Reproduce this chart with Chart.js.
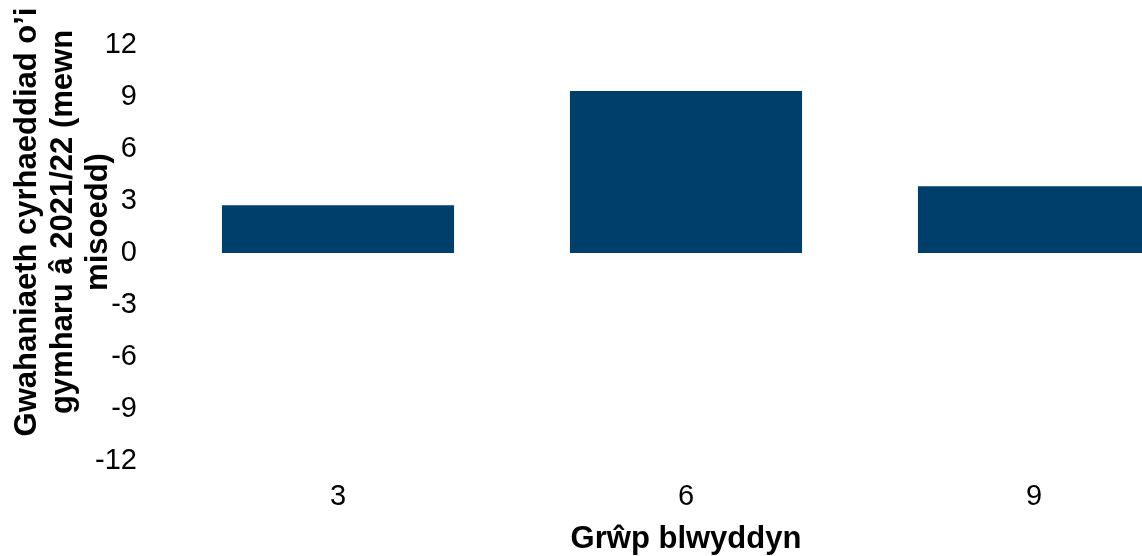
<!DOCTYPE html>
<html>
<head>
<meta charset="utf-8">
<script src="https://cdn.jsdelivr.net/npm/chart.js@4/dist/chart.umd.min.js"></script>
<style>
  html, body { margin: 0; padding: 0; background: #ffffff; overflow: hidden; }
  #wrap { width: 1210px; height: 556px; }
</style>
</head>
<body>
<div id="wrap"><canvas id="c" width="1210" height="556"></canvas></div>
<script>
const categories = ['3', '6', '9'];
const values = [2.75, 9.35, 3.85];
const yMin = -12;
const yMax = 12;
const yStep = 3;
const yTitleLines = ['Gwahaniaeth cyrhaeddiad o\u2019i', 'gymharu \u00e2 2021/22 (mewn', 'misoedd)'];
const xTitle = 'Gr\u0175p blwyddyn';

const FONT = '"Liberation Sans", Arial, sans-serif';
const barColor = '#003e6b';

const titlePlugin = {
  id: 'titles',
  afterDraw(chart) {
    const ctx = chart.ctx;
    const area = chart.chartArea;
    ctx.save();
    ctx.fillStyle = '#000000';
    ctx.font = 'bold 31px ' + FONT;
    // y title (rotated)
    const baselines = [36, 71.5, 107];
    const cy = 222;
    ctx.textAlign = 'center';
    ctx.textBaseline = 'alphabetic';
    yTitleLines.forEach((line, i) => {
      ctx.save();
      ctx.translate(baselines[i], cy);
      ctx.rotate(-Math.PI / 2);
      ctx.fillText(line, 0, 0);
      ctx.restore();
    });
    // x title
    ctx.fillText(xTitle, (area.left + area.right) / 2, 548);
    ctx.restore();
  }
};

new Chart(document.getElementById('c'), {
  type: 'bar',
  data: {
    labels: categories,
    datasets: [{
      data: values,
      backgroundColor: barColor,
      borderWidth: 0,
      barPercentage: 1.0,
      categoryPercentage: 0.667
    }]
  },
  options: {
    responsive: false,
    animation: false,
    devicePixelRatio: 1,
    layout: { padding: { top: 45, right: 2, left: 0, bottom: 0 } },
    plugins: { legend: { display: false }, tooltip: { enabled: false } },
    scales: {
      x: {
        grid: { display: false, drawTicks: false },
        border: { display: false },
        ticks: { color: '#000000', font: { family: FONT, size: 29 }, padding: 19 },
        afterFit(scale) { scale.height = 95; }
      },
      y: {
        min: yMin,
        max: yMax,
        grid: { display: false, drawTicks: false },
        border: { display: false },
        ticks: { stepSize: yStep, color: '#000000', font: { family: FONT, size: 29 }, padding: 27 },
        afterFit(scale) { scale.width = 164; }
      }
    }
  },
  plugins: [titlePlugin]
});
</script>
</body>
</html>
